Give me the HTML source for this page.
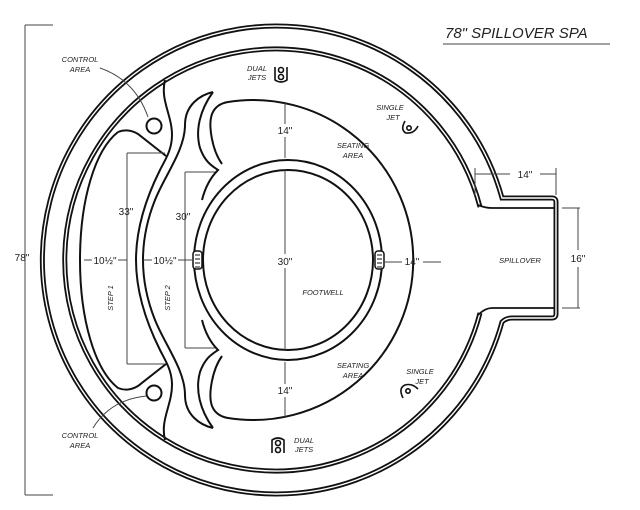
<!DOCTYPE html>
<html><head><meta charset="utf-8"><style>
body{margin:0;background:#fff}
svg{display:block}
text{font-family:"Liberation Sans",sans-serif;fill:#222}
.s{font-size:7.5px;font-style:italic}
.d{font-size:10px}
</style></head><body>
<svg width="640" height="510" viewBox="0 0 640 510" xmlns="http://www.w3.org/2000/svg">
<g fill="none" stroke="#111" stroke-width="2">
 <path d="M502,198 A234,234 0 1 0 502,322 Q506,318 512,318 H552 Q556,318 556,314 V202 Q556,198 552,198 H512 Q506,198 502,198 Z" stroke-width="5"/>
 <path d="M502,198 A234,234 0 1 0 502,322 Q506,318 512,318 H552 Q556,318 556,314 V202 Q556,198 552,198 H512 Q506,198 502,198 Z" stroke="#fff" stroke-width="1.4"/>
 <path d="M480,207 A211,211 0 1 0 480,313" stroke-width="5"/>
 <path d="M480,207 A211,211 0 1 0 480,313" stroke="#fff" stroke-width="1.4"/>
 <path d="M478,205 Q485,208 492,208 H554 M478,315 Q485,308 492,308 H554" stroke-width="1.8"/>
 <path d="M118,132 C95,150 80,200 80,260 C80,320 95,370 118,388 Q128,392 138,386 L166,364"/>
 <path d="M118,132 Q128,128 138,134 L166,156"/>
 <path d="M165,80 C160,100 172,115 172,135 C172,150 165,160 160,170 C145,200 136,230 136,260 C136,290 145,320 160,350 C165,360 172,370 172,385 C172,405 160,420 165,440"/>
 <path d="M213,92 C200,95 185,105 185,125 C185,150 165,175 155,200 C147,220 143,240 143,260 C143,280 147,300 155,320 C165,345 185,370 185,395 C185,415 200,425 213,428"/>
 <path d="M213,92 C200,110 195,130 200,148 C205,162 212,166 218,170 C210,178 205,188 202,200"/>
 <path d="M213,428 C200,410 195,390 200,372 C205,358 212,354 218,350 C210,342 205,332 202,320"/>
 <ellipse cx="288" cy="260" rx="94" ry="100"/>
 <ellipse cx="288" cy="260" rx="85" ry="90"/>
 <path d="M222,164 C212,150 208,125 212,114 Q216,104 228,102 A160,160 0 1 1 228,418 Q216,416 212,406 C208,395 212,370 222,356"/>
 <circle cx="154" cy="126" r="7.5"/>
 <circle cx="154" cy="393" r="7.5"/>
</g>
<g stroke="#111" fill="#fff" stroke-width="1.5">
 <rect x="193" y="251" width="9" height="18" rx="3"/>
 <rect x="375" y="251" width="9" height="18" rx="3"/>
 <path d="M195,255h5M195,259h5M195,263h5M195,267h5M377,255h5M377,259h5M377,263h5M377,267h5" stroke-width="1"/>
</g>
<g fill="none" stroke="#111" stroke-width="1.6">
 <path d="M275,67 V80 Q281,84 287,80 V67"/><circle cx="281" cy="70" r="2.5"/><circle cx="281" cy="77" r="2.5"/>
 <path d="M272,453 V440 Q278,436 284,440 V453"/><circle cx="278" cy="443" r="2.5"/><circle cx="278" cy="450" r="2.5"/>
 <path d="M405,121 Q400,130 406,133 Q414,134 418,126"/><circle cx="409" cy="128" r="2.2"/>
 <path d="M403,398 Q398,388 405,385 Q412,383 418,389"/><circle cx="408" cy="391" r="2.2"/>
</g>
<g stroke="#444" stroke-width="1" fill="none">
 <path d="M25,25 V495 M25,25 H53 M25,495 H53"/>
 <path d="M127,153 V364 M127,153 H165 M127,364 H165"/>
 <path d="M185,172 V348 M185,172 H215 M185,348 H215"/>
 <path d="M84,260 H92 M118,260 H127 M143,260 H152 M178,260 H193"/>
 <path d="M285,102 V124 M285,137 V158 M285,170 V254 M285,268 V350 M285,362 V384 M285,397 V418"/>
 <path d="M385,262 H402 M423,262 H441"/>
 <path d="M475,168 V195 M556,168 V195 M475,174 H510 M540,174 H556"/>
 <path d="M562,208 H580 M562,308 H580 M578,208 V250 M578,267 V308"/>
 <path d="M100,68 Q135,80 148,117"/>
 <path d="M93,428 Q110,400 146,396"/>
 <path d="M443,44 H610"/>
</g>
<g text-anchor="middle">
 <text x="22" y="261" class="d">78"</text>
 <text x="126" y="215" class="d">33"</text>
 <text x="183" y="220" class="d">30"</text>
 <text x="105" y="264" class="d">10½"</text>
 <text x="165" y="264" class="d">10½"</text>
 <text x="285" y="134" class="d">14"</text>
 <text x="285" y="265" class="d">30"</text>
 <text x="285" y="394" class="d">14"</text>
 <text x="412" y="265" class="d">14"</text>
 <text x="525" y="178" class="d">14"</text>
 <text x="578" y="262" class="d">16"</text>
 <text x="80" y="62" class="s">CONTROL</text><text x="80" y="72" class="s">AREA</text>
 <text x="80" y="438" class="s">CONTROL</text><text x="80" y="448" class="s">AREA</text>
 <text x="257" y="71" class="s">DUAL</text><text x="257" y="80" class="s">JETS</text>
 <text x="304" y="443" class="s">DUAL</text><text x="304" y="452" class="s">JETS</text>
 <text x="390" y="110" class="s">SINGLE</text><text x="393" y="120" class="s">JET</text>
 <text x="420" y="374" class="s">SINGLE</text><text x="422" y="384" class="s">JET</text>
 <text x="353" y="148" class="s">SEATING</text><text x="353" y="158" class="s">AREA</text>
 <text x="353" y="368" class="s">SEATING</text><text x="353" y="378" class="s">AREA</text>
 <text x="520" y="263" class="s">SPILLOVER</text>
 <text x="323" y="295" class="s">FOOTWELL</text>
 <text transform="translate(113,298) rotate(-90)" class="s">STEP 1</text>
 <text transform="translate(170,298) rotate(-90)" class="s">STEP 2</text>
</g>
<text x="445" y="38" style="font-size:15px;font-style:italic">78" SPILLOVER SPA</text>
</svg>
</body></html>
